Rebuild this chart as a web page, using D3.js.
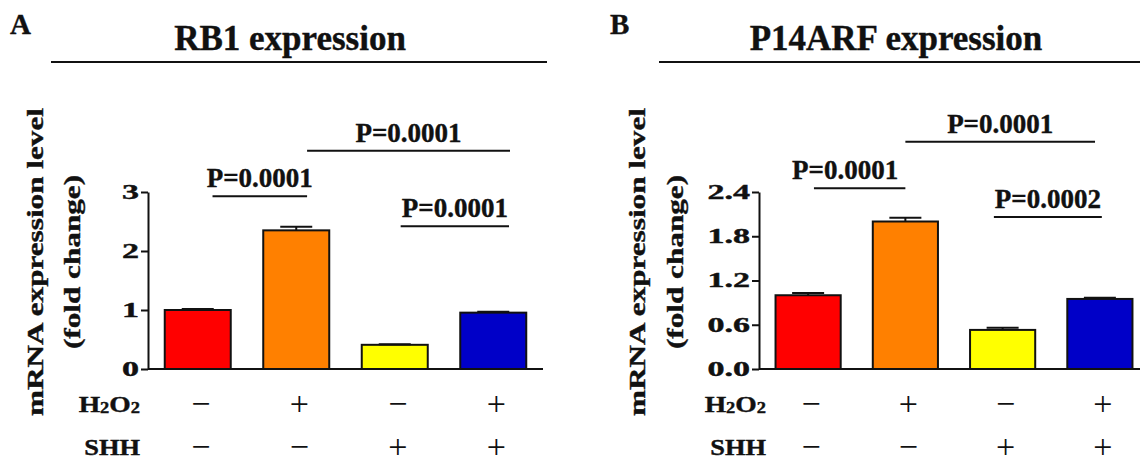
<!DOCTYPE html>
<html>
<head>
<meta charset="utf-8">
<script src="https://cdn.jsdelivr.net/npm/d3@7"></script>
<style>
    body { margin: 0; background: white; }
    text { font-family: "Liberation Serif", "Times New Roman", serif; fill: #111; }
    text.heavy { stroke: #111; stroke-width: 0.4; }
</style>
</head>
<body>
<div id="chartId"></div>
<script>

const GROUPS = ["Control", "H2O2", "SHH", "H2O2 + SHH"]
const H2O2_SIGNS = ["\u2212", "+", "\u2212", "+"]
const SHH_SIGNS = ["\u2212", "\u2212", "+", "+"]
// red, orange, yellow, dark blue
const BAR_COLORS = ["#ff0000", "#ff8000", "#ffff00", "#0000c8"]

const RB1_MEANS = [1.0, 2.35, 0.41, 0.955]
const RB1_ERRORS = [0.015, 0.06, 0.01, 0.015]
const RB1_TICKS = [0, 1, 2, 3]
// from / to are group positions (0 = first bar), y in fold change
const RB1_PVALUES = [
    {from: 0.15, to: 1.11, y: 2.93, label: "P=0.0001"},
    {from: 1.11, to: 3.17, y: 3.70, label: "P=0.0001"},
    {from: 2.06, to: 3.16, y: 2.42, label: "P=0.0001"}
]

const P14ARF_MEANS = [1.0, 2.0, 0.53, 0.95]
const P14ARF_ERRORS = [0.03, 0.05, 0.03, 0.015]
const P14ARF_TICKS = [0, 0.6, 1.2, 1.8, 2.4]
const P14ARF_PVALUES = [
    {from: 0.06, to: 1.0, y: 2.45, label: "P=0.0001", labelAt: 0.38},
    {from: 1.0, to: 2.95, y: 3.08, label: "P=0.0001"},
    {from: 1.91, to: 3.02, y: 2.06, label: "P=0.0002"}
]

const WIDTH = 1140
const HEIGHT = 466
const AXIS_BOTTOM = 369
const AXIS_TOP = 192
const ROW_Y = [404, 447]
const LINE_COLOR = "#111111"

let svg = d3.select("#chartId").append("svg")
    .attr("width", WIDTH)
    .attr("height", HEIGHT)
    .style("display", "block")

function drawPanel(cfg) {
    let g = svg.append("g")

    let x = d3.scaleBand()
        .domain(GROUPS)
        .range([cfg.left, cfg.left + cfg.width])
        .paddingInner(0.33)
        .paddingOuter(0.17)
    let y = d3.scaleLinear()
        .domain([0, cfg.ticks[cfg.ticks.length - 1]])
        .range([AXIS_BOTTOM, AXIS_TOP])
    // group position -> pixel, for the p-value brackets
    let pos = d3.scaleLinear()
        .domain([0, 1])
        .range([x(GROUPS[0]) + x.bandwidth() / 2, x(GROUPS[1]) + x.bandwidth() / 2])

    // panel letter, title and the rule under it
    g.append("text")
        .attr("class", "heavy")
        .attr("x", cfg.letterX)
        .attr("y", 34)
        .attr("font-size", 29)
        .attr("font-weight", "bold")
        .text(cfg.letter)
    g.append("text")
        .attr("class", "heavy")
        .attr("x", cfg.titleX)
        .attr("y", 50)
        .attr("text-anchor", "middle")
        .attr("font-size", 35)
        .attr("font-weight", "bold")
        .text(cfg.title)
    g.append("line")
        .attr("x1", cfg.ruleX[0])
        .attr("x2", cfg.ruleX[1])
        .attr("y1", 62)
        .attr("y2", 62)
        .attr("stroke", LINE_COLOR)
        .attr("stroke-width", 2)

    // y axis
    let yAxis = g.append("g")
        .attr("transform", "translate(" + cfg.left + ",0)")
        .call(d3.axisLeft(y)
            .tickValues(cfg.ticks)
            .tickSize(7)
            .tickSizeOuter(0)
            .tickFormat(cfg.format))
    yAxis.select(".domain").attr("stroke", LINE_COLOR).attr("stroke-width", 2)
    yAxis.selectAll(".tick line").attr("stroke", LINE_COLOR).attr("stroke-width", 2)
    yAxis.selectAll(".tick text")
        .attr("class", "heavy")
        .attr("x", -9 / 1.7)
        .attr("transform", "scale(1.7,1)")
        .attr("font-size", 20)
        .attr("font-weight", "bold")
        .attr("fill", "#111")

    // y axis title, two lines
    cfg.yLabelX.forEach((lx, i) => {
        g.append("text")
            .attr("class", "heavy")
            .attr("transform", "translate(" + lx + ",262) rotate(-90) scale(1.3,1)")
            .attr("text-anchor", "middle")
            .attr("font-size", 24)
            .attr("font-weight", "bold")
            .text(i === 0 ? "mRNA expression level" : "(fold change)")
    })

    // bars
    g.selectAll("rect.bar")
        .data(cfg.means)
        .join("rect")
        .attr("class", "bar")
        .attr("x", (d, i) => x(GROUPS[i]))
        .attr("y", d => y(d))
        .attr("width", x.bandwidth())
        .attr("height", d => y(0) - y(d))
        .attr("fill", (d, i) => BAR_COLORS[i])
        .attr("stroke", LINE_COLOR)
        .attr("stroke-width", 2)

    // error bars (upper only)
    cfg.means.forEach((m, i) => {
        let cx = x(GROUPS[i]) + x.bandwidth() / 2
        let top = y(m + cfg.errors[i])
        g.append("line")
            .attr("x1", cx).attr("x2", cx)
            .attr("y1", y(m)).attr("y2", top)
            .attr("stroke", LINE_COLOR)
            .attr("stroke-width", 2)
        g.append("line")
            .attr("x1", cx - 16).attr("x2", cx + 16)
            .attr("y1", top).attr("y2", top)
            .attr("stroke", LINE_COLOR)
            .attr("stroke-width", 2)
    })

    // x baseline
    g.append("line")
        .attr("x1", cfg.left)
        .attr("x2", x.range()[1])
        .attr("y1", y(0))
        .attr("y2", y(0))
        .attr("stroke", LINE_COLOR)
        .attr("stroke-width", 2)

    // p-value brackets
    cfg.pvalues.forEach(p => {
        g.append("line")
            .attr("x1", pos(p.from))
            .attr("x2", pos(p.to))
            .attr("y1", y(p.y))
            .attr("y2", y(p.y))
            .attr("stroke", LINE_COLOR)
            .attr("stroke-width", 2)
        let mid = p.labelAt !== undefined ? p.labelAt : (p.from + p.to) / 2
        g.append("text")
            .attr("class", "heavy")
            .attr("x", pos(mid))
            .attr("y", y(p.y) - 9)
            .attr("text-anchor", "middle")
            .attr("font-size", 27)
            .attr("font-weight", "bold")
            .text(p.label)
    })

    // treatment rows
    let rows = [H2O2_SIGNS, SHH_SIGNS]
    rows.forEach((signs, r) => {
        g.selectAll("text.sign" + r)
            .data(signs)
            .join("text")
            .attr("class", "sign" + r)
            .attr("x", (d, i) => x(GROUPS[i]) + x.bandwidth() / 2 + 3)
            .attr("y", ROW_Y[r])
            .attr("dy", "0.33em")
            .attr("text-anchor", "middle")
            .attr("font-size", 34)
            .text(d => d)
    })

    let h2o2 = g.append("text")
        .attr("class", "heavy")
        .attr("transform", "translate(" + cfg.rowLabelX + "," + ROW_Y[0] + ") scale(1.15,1)")
        .attr("dy", "0.34em")
        .attr("text-anchor", "end")
        .attr("font-size", 24)
        .attr("font-weight", "bold")
    h2o2.append("tspan").text("H")
    h2o2.append("tspan").attr("font-size", 16).attr("dy", 1).text("2")
    h2o2.append("tspan").attr("dy", -1).text("O")
    h2o2.append("tspan").attr("font-size", 16).attr("dy", 1).text("2")

    g.append("text")
        .attr("class", "heavy")
        .attr("transform", "translate(" + cfg.rowLabelX + "," + ROW_Y[1] + ") scale(1.1,1)")
        .attr("dy", "0.34em")
        .attr("text-anchor", "end")
        .attr("font-size", 24)
        .attr("font-weight", "bold")
        .text("SHH")
}

drawPanel({
    letter: "A", letterX: 10,
    title: "RB1 expression", titleX: 290, ruleX: [51, 547],
    left: 148, width: 395,
    yLabelX: [43, 80],
    rowLabelX: 140,
    means: RB1_MEANS, errors: RB1_ERRORS, ticks: RB1_TICKS,
    format: d3.format("d"),
    pvalues: RB1_PVALUES
})

drawPanel({
    letter: "B", letterX: 610,
    title: "P14ARF expression", titleX: 896, ruleX: [659, 1140],
    left: 759, width: 390,
    yLabelX: [645, 683],
    rowLabelX: 766,
    means: P14ARF_MEANS, errors: P14ARF_ERRORS, ticks: P14ARF_TICKS,
    format: d3.format(".1f"),
    pvalues: P14ARF_PVALUES
})

</script>
</body>
</html>
